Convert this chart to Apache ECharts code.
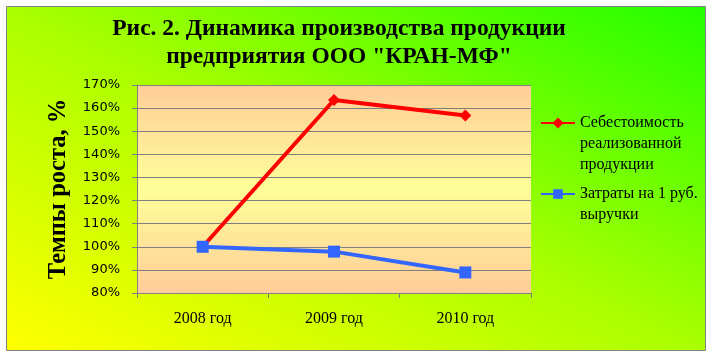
<!DOCTYPE html>
<html><head><meta charset="utf-8">
<script src="https://cdn.jsdelivr.net/npm/echarts@6/dist/echarts.min.js"></script>
<style>html,body{margin:0;padding:0;background:#fff}#c{width:714px;height:358px}</style>
</head><body><div id="c"></div>
<script>
const categories = ['2008 год', '2009 год', '2010 год'];
const costValues = [100, 163.5, 156.8];
const perRubleValues = [100, 97.9, 88.9];
const seriesNames = ['Себестоимость реализованной продукции', 'Затраты на 1 руб. выручки'];
const legendLabels = ['\n\nСебестоимость\nреализованной\nпродукции', '\nЗатраты на 1 руб.\nвыручки'];
const titleText = 'Рис. 2. Динамика производства продукции\nпредприятия ООО "КРАН-МФ"';
const yAxisName = 'Темпы роста, %';

const chart = echarts.init(document.getElementById('c'), null, {renderer: 'canvas'});
const serif = '"Liberation Serif", "Times New Roman", serif';
const legendBase = {
  orient: 'vertical', left: 540, padding: 0, itemWidth: 34, itemHeight: 12,
  selectedMode: false,
  formatter: n => legendLabels[seriesNames.indexOf(n)],
  textStyle: {fontFamily: serif, fontSize: 16, color: '#000', lineHeight: 21}
};
chart.setOption({
  backgroundColor: '#ffffff',
  animation: false,
  graphic: [{
    type: 'rect', z: -1, silent: true,
    shape: {x: 6.5, y: 6.5, width: 699, height: 344},
    style: {
      stroke: '#808080', lineWidth: 1,
      fill: {type: 'linear', global: true, x: 219, y: 455, x2: 492, y2: -98,
        colorStops: [{offset: 0, color: '#ffff00'}, {offset: 0.5, color: '#aaff00'}, {offset: 1, color: '#22ff00'}]}
    }
  }],
  title: {
    text: titleText, left: 339, top: 15, padding: 0, textAlign: 'center',
    textStyle: {fontFamily: serif, fontSize: 23.5, fontWeight: 'bold', color: '#000', lineHeight: 28}
  },
  legend: [
    Object.assign({}, legendBase, {top: 123 - 52.5, itemHeight: 14, data: [seriesNames[0]]}),
    Object.assign({}, legendBase, {top: 193 - 31.5 + 1, data: [seriesNames[1]]})
  ],
  grid: {
    left: 137, top: 85, width: 394, height: 208, containLabel: false, show: true, borderWidth: 0,
    backgroundColor: {type: 'linear', x: 0, y: 0, x2: 0, y2: 1,
      colorStops: [{offset: 0, color: '#ffcc99'}, {offset: 0.5, color: '#ffff99'}, {offset: 1, color: '#ffcc99'}]}
  },
  xAxis: {
    type: 'category', data: categories, boundaryGap: true,
    axisLine: {lineStyle: {color: '#808080', width: 1}},
    axisTick: {show: true, length: 5, lineStyle: {color: '#808080'}},
    axisLabel: {fontFamily: serif, fontSize: 16, color: '#000', margin: 18},
    splitLine: {show: false}
  },
  yAxis: {
    type: 'value', min: 80, max: 170, interval: 10,
    name: yAxisName, nameLocation: 'middle', nameRotate: 90, nameGap: 66,
    nameTextStyle: {fontFamily: serif, fontSize: 24.5, fontWeight: 'bold', color: '#000'},
    axisLine: {show: true, lineStyle: {color: '#808080', width: 1}},
    axisTick: {show: true, length: 5, lineStyle: {color: '#808080'}},
    axisLabel: {formatter: '{value}%', fontFamily: '"DejaVu Sans", sans-serif', fontSize: 13, color: '#000', margin: 17},
    splitLine: {show: true, lineStyle: {color: '#808080', width: 1}}
  },
  series: [
    {name: seriesNames[0], type: 'line', data: costValues, symbol: 'diamond', symbolSize: 12,
     lineStyle: {color: '#ff0000', width: 4}, itemStyle: {color: '#ff0000'}},
    {name: seriesNames[1], type: 'line', data: perRubleValues, symbol: 'rect', symbolSize: 12,
     lineStyle: {color: '#3366ff', width: 4}, itemStyle: {color: '#3366ff'}}
  ]
});
</script></body></html>
